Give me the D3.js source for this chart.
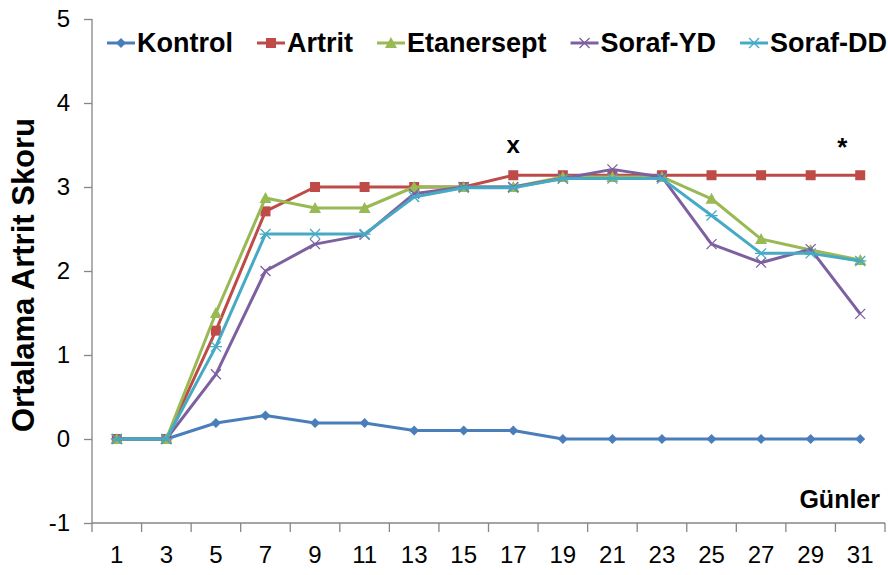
<!DOCTYPE html>
<html>
<head>
<meta charset="utf-8">
<script src="https://cdn.jsdelivr.net/npm/d3@7"></script>
<style>
  body { margin: 0; background: #fff; }
  text { font-family: Arial, "Liberation Sans", sans-serif; }
</style>
</head>
<body>
<svg width="888" height="575"></svg>
<script>
// days on the x axis
var days = ['1', '3', '5', '7', '9', '11', '13', '15', '17', '19', '21', '23', '25', '27', '29', '31'];
var seriesNames = ['Kontrol', 'Artrit', 'Etanersept', 'Soraf-YD', 'Soraf-DD'];

// mean arthritis score per group
var kontrol    = [0, 0, 0.19, 0.28, 0.19, 0.19, 0.1, 0.1, 0.1, 0, 0, 0, 0, 0, 0, 0];
var artrit     = [0, 0, 1.29, 2.71, 3, 3, 3, 3, 3.14, 3.14, 3.14, 3.14, 3.14, 3.14, 3.14, 3.14];
var etanersept = [0, 0, 1.5, 2.87, 2.75, 2.75, 3, 3, 3, 3.12, 3.12, 3.12, 2.86, 2.38, 2.25, 2.13];
var sorafYD    = [0, 0, 0.77, 2, 2.32, 2.43, 2.92, 3, 3, 3.1, 3.21, 3.12, 2.32, 2.1, 2.26, 1.49];
var sorafDD    = [0, 0, 1.1, 2.44, 2.44, 2.44, 2.88, 2.99, 2.99, 3.1, 3.1, 3.1, 2.66, 2.21, 2.21, 2.12];

var yTicks = [-1, 0, 1, 2, 3, 4, 5];

var colors = ['#4A7EBB', '#BE4B48', '#98B954', '#7D60A0', '#46AAC5'];
var markers = ['diamond', 'square', 'triangle', 'x', 'star'];
var allValues = [kontrol, artrit, etanersept, sorafYD, sorafDD];

var svg = d3.select('svg');
var padding = { t: 19, r: 3, b: 52, l: 92 };
var svgWidth = +svg.attr('width');
var svgHeight = +svg.attr('height');
var chartWidth = svgWidth - padding.l - padding.r;
var chartHeight = svgHeight - padding.t - padding.b;

var chartG = svg.append('g')
    .attr('transform', `translate(${padding.l}, ${padding.t})`);

var xScale = d3.scaleBand().domain(days).range([0, chartWidth]).padding(0);
var yScale = d3.scaleLinear().domain([-1, 5]).range([chartHeight, 0]);

var axisColor = '#868686';

// y axis
var yAxis = chartG.append('g')
    .call(d3.axisLeft(yScale).tickValues(yTicks).tickSize(8).tickPadding(14)
        .tickFormat(function(d) { return String(d); }));
yAxis.select('.domain').attr('stroke', axisColor).attr('stroke-width', 1.3).attr('d', `M0,0V${chartHeight}`);
yAxis.selectAll('.tick line').attr('stroke', axisColor).attr('stroke-width', 1.3);
yAxis.selectAll('text').style('font-size', '24px').attr('fill', '#000');

// x axis: ticks at band edges
var xAxisG = chartG.append('g').attr('transform', `translate(0,${chartHeight})`);
xAxisG.append('line')
    .attr('x1', 0).attr('x2', chartWidth)
    .attr('stroke', axisColor).attr('stroke-width', 1.3);
var edges = days.map(function(d) { return xScale(d); }).concat([chartWidth]);
xAxisG.selectAll('.xt').data(edges).enter().append('line')
    .attr('x1', function(d) { return d; }).attr('x2', function(d) { return d; })
    .attr('y1', 0).attr('y2', 9)
    .attr('stroke', axisColor).attr('stroke-width', 1.3);
xAxisG.selectAll('.xl').data(days).enter().append('text')
    .attr('x', function(d) { return xScale(d) + xScale.bandwidth() / 2; })
    .attr('y', 40)
    .attr('text-anchor', 'middle')
    .style('font-size', '24px')
    .text(function(d) { return d; });

// marker shapes
function drawMarker(g, type, color) {
    if (type === 'diamond') {
        g.append('path').attr('d', 'M0,-5L5,0L0,5L-5,0Z').attr('fill', color);
    } else if (type === 'square') {
        g.append('rect').attr('x', -5).attr('y', -5).attr('width', 10).attr('height', 10).attr('fill', color);
    } else if (type === 'triangle') {
        g.append('path').attr('d', 'M0,-6L6,5L-6,5Z').attr('fill', color);
    } else if (type === 'x') {
        g.append('path').attr('d', 'M-5,-5L5,5M-5,5L5,-5').attr('stroke', color).attr('stroke-width', 1.3);
    } else {
        g.append('path').attr('d', 'M-5,-5L5,5M-5,5L5,-5M-6,0L6,0').attr('stroke', color).attr('stroke-width', 1.3);
    }
}

var line = d3.line()
    .x(function(d, i) { return xScale(days[i]) + xScale.bandwidth() / 2; })
    .y(function(d) { return yScale(d); });

allValues.forEach(function(vals, s) {
    chartG.append('path')
        .datum(vals)
        .attr('d', line)
        .attr('fill', 'none')
        .attr('stroke', colors[s])
        .attr('stroke-width', 3)
        .attr('stroke-linejoin', 'round');
    vals.forEach(function(v, i) {
        var g = chartG.append('g')
            .attr('transform', `translate(${xScale(days[i]) + xScale.bandwidth() / 2},${yScale(v)})`);
        drawMarker(g, markers[s], colors[s]);
    });
});

// legend
var legendX = 107;
var legendY = 43;
seriesNames.forEach(function(name, s) {
    var g = svg.append('g').attr('transform', `translate(${legendX},${legendY})`);
    g.append('line').attr('x1', 0).attr('x2', 28)
        .attr('stroke', colors[s]).attr('stroke-width', 3);
    var mg = g.append('g').attr('transform', 'translate(14,0)');
    drawMarker(mg, markers[s], colors[s]);
    var t = g.append('text')
        .attr('x', 30).attr('y', 9)
        .style('font-size', '27px')
        .style('font-weight', 'bold')
        .text(name);
    legendX += 30 + t.node().getComputedTextLength() + 24;
});

// axis titles
svg.append('text')
    .attr('transform', 'translate(34,275) rotate(-90)')
    .attr('text-anchor', 'middle')
    .style('font-size', '31px')
    .style('font-weight', 'bold')
    .text('Ortalama Artrit Skoru');

svg.append('text')
    .attr('x', 880).attr('y', 508)
    .attr('text-anchor', 'end')
    .style('font-size', '25px')
    .style('font-weight', 'bold')
    .text('Günler');

// significance marks
svg.append('text')
    .attr('x', xScale('17') + xScale.bandwidth() / 2 + padding.l)
    .attr('y', 153)
    .attr('text-anchor', 'middle')
    .style('font-size', '24px')
    .style('font-weight', 'bold')
    .text('x');

svg.append('text')
    .attr('x', xScale('31') + xScale.bandwidth() / 2 + padding.l - 18)
    .attr('y', 156)
    .attr('text-anchor', 'middle')
    .style('font-size', '26px')
    .style('font-weight', 'bold')
    .text('*');
</script>
</body>
</html>
